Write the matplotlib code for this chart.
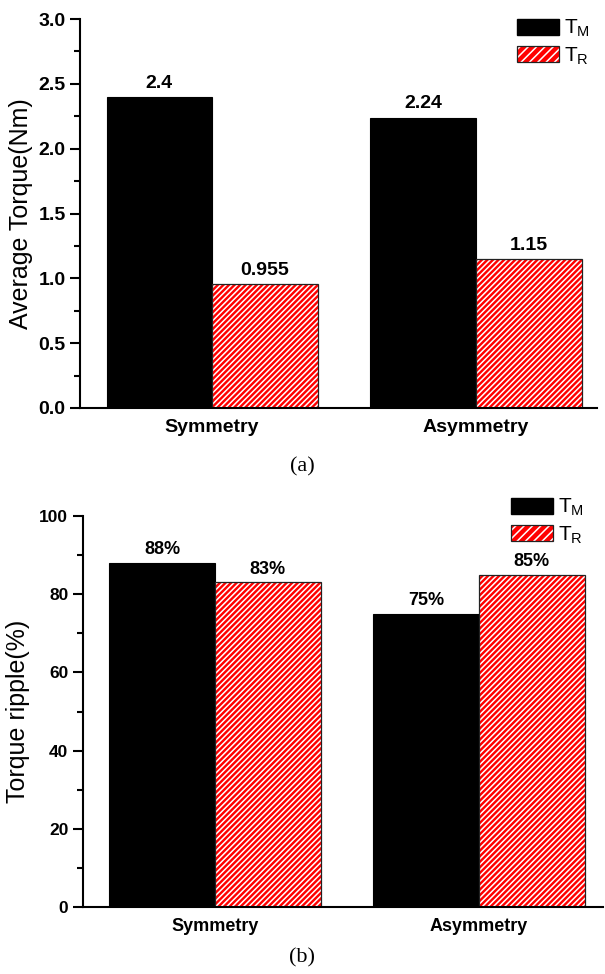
import matplotlib
matplotlib.use("Agg")
import matplotlib.pyplot as plt
from matplotlib.ticker import MultipleLocator
from matplotlib.patches import Patch
import numpy as np

plt.rcParams['font.family'] = ['Liberation Sans', 'DejaVu Sans']
plt.rcParams['mathtext.default'] = 'regular'
plt.rcParams['hatch.linewidth'] = 1.1

# data
categories = ['Symmetry', 'Asymmetry']
avg_tm = [2.4, 2.24]
avg_tr = [0.955, 1.15]
avg_tm_lbl = ['2.4', '2.24']
avg_tr_lbl = ['0.955', '1.15']
rip_tm = [88, 75]
rip_tr = [83, 85]
rip_tm_lbl = ['88%', '75%']
rip_tr_lbl = ['83%', '85%']
legend_labels = ['T$_{M}$', 'T$_{R}$']

fig = plt.figure(figsize=(6.05, 9.74), dpi=100)
ax1 = fig.add_axes([0.1325, 1 - 408 / 974, 0.855, 389 / 974])
ax2 = fig.add_axes([0.137, 1 - 907 / 974, 0.86, 391 / 974])

x = np.arange(len(categories))
w = 0.4
HATCH = '//////'


def draw(ax, tm, tr, tm_lbl, tr_lbl, pad, lab_size, cat_size, tick_size, leg_xy):
    ax.bar(x - w / 2, tm, w, color='black', edgecolor='black', linewidth=0.8)
    ax.bar(x + w / 2, tr, w, color='#ff0000', edgecolor='white', hatch=HATCH, linewidth=0)
    ax.bar(x + w / 2, tr, w, fill=False, edgecolor='#222222', linewidth=0.9)
    for i in range(len(x)):
        ax.text(x[i] - w / 2, tm[i] + pad, tm_lbl[i], ha='center', va='bottom',
                fontsize=lab_size, fontweight='bold')
        ax.text(x[i] + w / 2, tr[i] + pad, tr_lbl[i], ha='center', va='bottom',
                fontsize=lab_size, fontweight='bold')
    ax.spines['top'].set_visible(False)
    ax.spines['right'].set_visible(False)
    ax.spines['left'].set_linewidth(1.5)
    ax.spines['bottom'].set_linewidth(1.5)
    ax.set_xticks(x)
    ax.set_xticklabels(categories, fontsize=cat_size, fontweight='bold')
    ax.tick_params(axis='x', length=0, pad=8)
    ax.tick_params(axis='y', which='major', direction='out', length=7, width=1.5,
                   labelsize=tick_size)
    ax.tick_params(axis='y', which='minor', direction='out', length=4, width=1.5)

    h1 = Patch(facecolor='black', edgecolor='black')
    h2 = (Patch(facecolor='#ff0000', edgecolor='white', hatch='////', linewidth=0),
          Patch(fill=False, edgecolor='#222222', linewidth=0.9))
    ax.legend([h1, h2], legend_labels, loc='upper left', frameon=False,
              fontsize=15, handlelength=2.0, handleheight=0.8,
              labelspacing=0.3, handletextpad=0.25, borderpad=0,
              borderaxespad=0, bbox_to_anchor=leg_xy,
              bbox_transform=fig.transFigure)


draw(ax1, avg_tm, avg_tr, avg_tm_lbl, avg_tr_lbl, 0.04, 14, 14, 14,
     (517 / 605, 1 - 18 / 974))
ax1.set_xlim(-0.5, 1.46)
ax1.set_ylim(0, 3.0)
ax1.yaxis.set_major_locator(MultipleLocator(0.5))
ax1.yaxis.set_minor_locator(MultipleLocator(0.25))
ax1.yaxis.set_major_formatter('{x:.1f}')
ax1.set_ylabel('Average Torque(Nm)', fontsize=18, labelpad=4)

draw(ax2, rip_tm, rip_tr, rip_tm_lbl, rip_tr_lbl, 1.2, 13, 13, 12.5,
     (511 / 605, 1 - 497 / 974))
ax2.set_xlim(-0.5, 1.47)
ax2.set_ylim(0, 100)
ax2.yaxis.set_major_locator(MultipleLocator(20))
ax2.yaxis.set_minor_locator(MultipleLocator(10))
ax2.set_ylabel('Torque ripple(%)', fontsize=18, labelpad=7)

for ax in (ax1, ax2):
    for t in ax.get_yticklabels():
        t.set_fontweight('bold')

fig.text(0.5, 1 - 467 / 974, '(a)', ha='center', va='center', fontsize=16,
         family='Liberation Serif')
fig.text(0.5, 1 - 958 / 974, '(b)', ha='center', va='center', fontsize=16,
         family='Liberation Serif')

fig.savefig('out.png', dpi=100)
